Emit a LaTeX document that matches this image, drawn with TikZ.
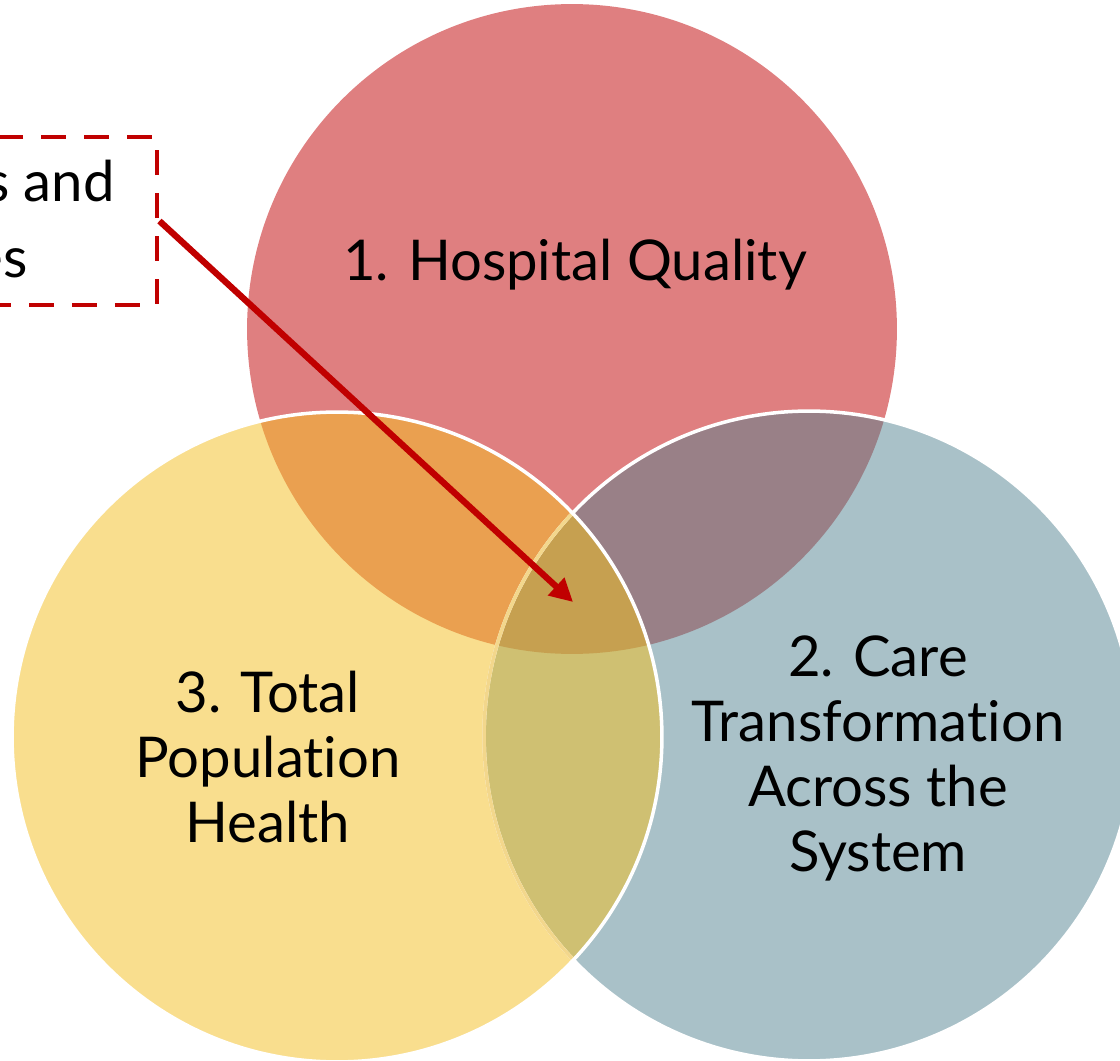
\documentclass[tikz,border=0pt]{standalone}
\usepackage{fontspec}
\setmainfont{Lato}[Ligatures=NoCommon]
\usetikzlibrary{arrows.meta}
\definecolor{hqpink}{HTML}{DF7F80}
\definecolor{tpyellow}{HTML}{F9DE8E}
\definecolor{ctblue}{HTML}{A9C1C8}
\definecolor{hqtp}{HTML}{EAA050}
\definecolor{hqct}{HTML}{998087}
\definecolor{tpct}{HTML}{CFC072}
\definecolor{allthree}{HTML}{C6A050}
\definecolor{paleline}{HTML}{F3D78C}
\definecolor{notered}{HTML}{C00000}
\begin{document}
\begin{tikzpicture}[x=0.02cm,y=-0.02cm,
  label/.style={font=\fontsize{32}{37}\selectfont, align=center},
  rim/.style={line width=2pt},
  notebox/.style={draw=notered, line width=2.8pt, dash pattern=on 0.5cm off 0.36cm},
  pointer/.style={draw=notered, line width=3.6pt, -{Triangle[length=0.46cm,width=0.46cm]}}]
  \useasboundingbox (0,0) rectangle (1120,1061);
  \def\R{6.5cm}
  \coordinate (Q) at (572,329);
  \coordinate (T) at (337,737);
  \coordinate (C) at (809,736);
  % circles
  \fill[hqpink] (Q) circle[radius=\R];
  \fill[tpyellow] (T) circle[radius=\R];
  \fill[ctblue] (C) circle[radius=\R];
  \begin{scope}
    \clip (Q) circle[radius=\R];
    \fill[hqtp] (T) circle[radius=\R];
    \fill[hqct] (C) circle[radius=\R];
  \end{scope}
  \begin{scope}
    \clip (T) circle[radius=\R];
    \fill[tpct] (C) circle[radius=\R];
    \clip (Q) circle[radius=\R];
    \fill[allthree] (C) circle[radius=\R];
  \end{scope}
  % rims
  \draw[rim, white] (C) circle[radius=\R];
  \begin{scope}
    \clip (T) circle[radius=\R];
    \draw[rim, paleline] (C) circle[radius=\R];
  \end{scope}
  \draw[rim, white] (T) circle[radius=\R];
  % labels
  \node (hq) at (575,265) [label] {1. Hospital Quality};
  \node (tp) at (268,757) [label] {3. Total\\Population\\Health};
  \node (ct) at (878,758) [label] {2. Care\\Transformation\\Across the\\System};
  % note box
  \node (note) at (28.5,221) [notebox, minimum width=5.14cm, minimum height=3.36cm] {};
  \node (l1) at (115,202) [label, inner xsep=0pt, anchor=base east] {s and};
  \node (l2) at (28,277) [label, inner xsep=0pt, anchor=base east] {es};
  \coordinate (tip) at (573,602);
  \draw[pointer] (note.east) -- (tip);
\end{tikzpicture}
\end{document}
